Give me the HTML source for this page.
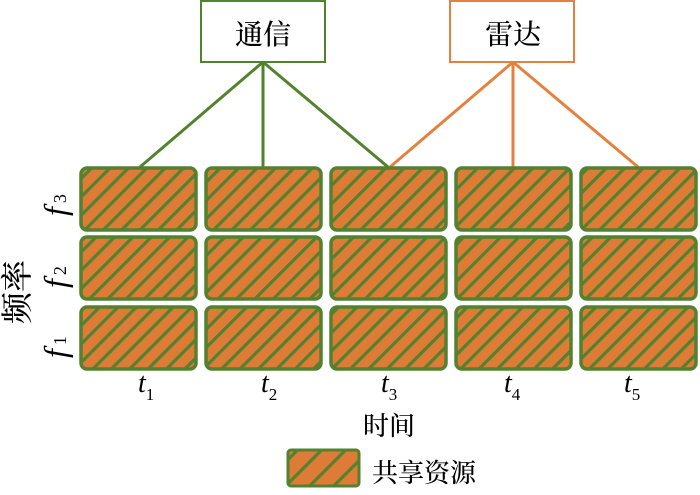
<!DOCTYPE html>
<html><head><meta charset="utf-8"><style>
html,body{margin:0;padding:0;background:#fff;}
</style></head><body>
<svg width="700" height="490" viewBox="0 0 700 490" xmlns="http://www.w3.org/2000/svg" font-family="Liberation Serif, 'Noto Serif CJK SC', serif">
<defs>
<pattern id="h" patternUnits="userSpaceOnUse" width="13" height="13" patternTransform="rotate(45)">
<rect width="13" height="13" fill="#DE7B36"/>
<rect x="0" y="0" width="3.2" height="13" fill="#53822F"/>
</pattern>
<pattern id="h2" patternUnits="userSpaceOnUse" width="17" height="17" patternTransform="rotate(45)">
<rect width="17" height="17" fill="#DE7B36"/>
<rect x="0" y="0" width="3.2" height="17" fill="#53822F"/>
</pattern>
</defs>
<g stroke="#53822F" stroke-width="3" fill="none">
<line x1="263" y1="62" x2="140" y2="167"/>
<line x1="263" y1="62" x2="263" y2="167"/>
<line x1="263" y1="62" x2="388" y2="167"/>
</g>
<g stroke="#E5813E" stroke-width="3" fill="none">
<line x1="513" y1="62" x2="390" y2="167"/>
<line x1="513" y1="62" x2="513" y2="167"/>
<line x1="513" y1="62" x2="638" y2="167"/>
</g>
<rect x="201" y="1" width="124" height="61" fill="#fff" stroke="#53822F" stroke-width="2"/>
<rect x="450" y="1" width="124" height="61" fill="#fff" stroke="#E5813E" stroke-width="2"/>
<g font-family="'Noto Serif CJK SC','Noto Sans CJK SC', serif" font-weight="500">
<text x="263" y="44" font-size="28" text-anchor="middle">通信</text>
<text x="513" y="44" font-size="28" text-anchor="middle">雷达</text>
</g>
<g fill="url(#h)" stroke="#53822F" stroke-width="3.5">
<rect x="81" y="168" width="115" height="62" rx="6"/>
<rect x="206" y="168" width="115" height="62" rx="6"/>
<rect x="331" y="168" width="115" height="62" rx="6"/>
<rect x="456" y="168" width="115" height="62" rx="6"/>
<rect x="581" y="168" width="115" height="62" rx="6"/>
<rect x="81" y="237" width="115" height="62" rx="6"/>
<rect x="206" y="237" width="115" height="62" rx="6"/>
<rect x="331" y="237" width="115" height="62" rx="6"/>
<rect x="456" y="237" width="115" height="62" rx="6"/>
<rect x="581" y="237" width="115" height="62" rx="6"/>
<rect x="81" y="307" width="115" height="62" rx="6"/>
<rect x="206" y="307" width="115" height="62" rx="6"/>
<rect x="331" y="307" width="115" height="62" rx="6"/>
<rect x="456" y="307" width="115" height="62" rx="6"/>
<rect x="581" y="307" width="115" height="62" rx="6"/>
</g>
<g font-size="28" font-style="italic">
<text x="138" y="392">t<tspan font-size="17" font-style="normal" dy="8">1</tspan></text>
<text x="261" y="392">t<tspan font-size="17" font-style="normal" dy="8">2</tspan></text>
<text x="381" y="392">t<tspan font-size="17" font-style="normal" dy="8">3</tspan></text>
<text x="504" y="392">t<tspan font-size="17" font-style="normal" dy="8">4</tspan></text>
<text x="624" y="392">t<tspan font-size="17" font-style="normal" dy="8">5</tspan></text>
</g>
<g font-size="32" font-style="italic">
<text transform="translate(66,216) rotate(-90)">f<tspan font-size="18" font-style="normal" dx="4">3</tspan></text>
<text transform="translate(66,288) rotate(-90)">f<tspan font-size="18" font-style="normal" dx="4">2</tspan></text>
<text transform="translate(66,358) rotate(-90)">f<tspan font-size="18" font-style="normal" dx="4">1</tspan></text>
</g>
<g font-family="'Noto Serif CJK SC','Noto Sans CJK SC', serif" font-weight="500">
<text transform="translate(28,292) rotate(-90)" font-size="32" text-anchor="middle">频率</text>
<text x="389" y="435" font-size="26" text-anchor="middle">时间</text>
<text x="372" y="482" font-size="26">共享资源</text>
</g>
<rect x="288" y="450" width="71" height="36" rx="3" fill="url(#h2)" stroke="#53822F" stroke-width="3"/>
</svg>
</body></html>
